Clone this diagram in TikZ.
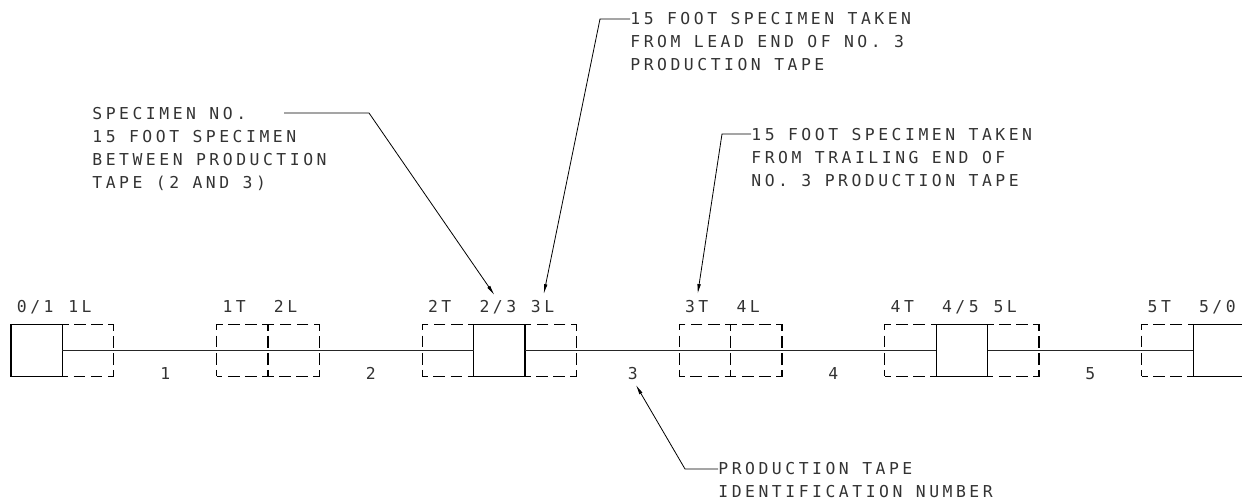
\documentclass[tikz,border=0pt]{standalone}
\usepackage{fontspec}
\usepackage{xcolor}
\usepackage{tikz}
\usetikzlibrary{arrows.meta,positioning,calc}

\newfontfamily\cadfont[LetterSpace=21.5]{DejaVu Sans Mono}

\begin{document}
\begin{tikzpicture}[
  x=0.5pt, y=0.5pt,
  cad/.style={font={\fontsize{8.2pt}{11.5pt}\cadfont}, text=black!80},
  splice/.style={draw, line width=0.55pt, minimum width=25.7pt,
    minimum height=25.7pt, inner sep=0pt, outer sep=0pt},
  sample/.style={splice, dash pattern=on 5.85pt off 2.7pt, dash phase=2.925pt},
  tape/.style={line width=0.5pt, black!85},
  tag/.style={cad, inner sep=0pt, text height=6pt, text depth=0pt},
  note/.style={cad, align=left, inner sep=0pt, anchor=north west},
  lead/.style={-{Latex[length=5pt,width=1.8pt]}, line width=0.4pt, shorten >=3pt}
]
\useasboundingbox (0,0) rectangle (1242,501);
\clip (0,0) rectangle (1242,501);

% tape with splices and specimen boxes
\node[splice] (b01) at (36.7,150.5) {};
\node[sample, right=0pt of b01] (d1L) {};
\node[sample, right=51.4pt of d1L] (d1T) {};
\node[sample, right=0pt of d1T] (d2L) {};
\node[sample, right=51.4pt of d2L] (d2T) {};
\node[splice, right=0pt of d2T] (b23) {};
\node[sample, right=0pt of b23] (d3L) {};
\node[sample, right=51.4pt of d3L] (d3T) {};
\node[sample, right=0pt of d3T] (d4L) {};
\node[sample, right=51.4pt of d4L] (d4T) {};
\node[splice, right=0pt of d4T] (b45) {};
\node[sample, right=0pt of b45] (d5L) {};
\node[sample, right=51.4pt of d5L] (d5T) {};
\node[splice, right=0pt of d5T] (b50) {};
\draw[tape] (b01.east) -- (b23.west) (b23.east) -- (b45.west) (b45.east) -- (b50.west);

% box tags
\node[tag, above right=6pt and 2.75pt of b01.north west] (t01) {0/1};
\node[tag, above right=6pt and 2.75pt of d1L.north west] (t1L) {1L};
\node[tag, above right=6pt and 2.75pt of d1T.north west] (t1T) {1T};
\node[tag, above right=6pt and 2.75pt of d2L.north west] (t2L) {2L};
\node[tag, above right=6pt and 2.75pt of d2T.north west] (t2T) {2T};
\node[tag, above right=6pt and 2.75pt of b23.north west] (t23) {2/3};
\node[tag, above right=6pt and 2.75pt of d3L.north west] (t3L) {3L};
\node[tag, above right=6pt and 2.75pt of d3T.north west] (t3T) {3T};
\node[tag, above right=6pt and 2.75pt of d4L.north west] (t4L) {4L};
\node[tag, above right=6pt and 2.75pt of d4T.north west] (t4T) {4T};
\node[tag, above right=6pt and 2.75pt of b45.north west] (t45) {4/5};
\node[tag, above right=6pt and 2.75pt of d5L.north west] (t5L) {5L};
\node[tag, above right=6pt and 2.75pt of d5T.north west] (t5T) {5T};
\node[tag, above right=6pt and 2.75pt of b50.north west] (t50) {5/0};

% tape numbers
\node[tag] (n1) at ([yshift=1.5pt]$(d1L.south east)!.5!(d1T.south west)$) {1};
\node[tag] (n2) at ([yshift=1.5pt]$(d2L.south east)!.5!(d2T.south west)$) {2};
\node[tag] (n3) at ([shift={(2.5pt,1.5pt)}]$(d3L.south east)!.5!(d3T.south west)$) {3};
\node[tag] (n4) at ([yshift=1.5pt]$(d4L.south east)!.5!(d4T.south west)$) {4};
\node[tag] (n5) at ([yshift=1.5pt]$(d5L.south east)!.5!(d5T.south west)$) {5};

% callouts
\node[note] (c1) at (92,394) {SPECIMEN NO.\\15 FOOT SPECIMEN\\BETWEEN PRODUCTION\\TAPE (2 AND 3)};
\node[note] (c2) at (630,489) {15 FOOT SPECIMEN TAKEN\\FROM LEAD END OF NO. 3\\PRODUCTION TAPE};
\node[note] (c3) at (751,373) {15 FOOT SPECIMEN TAKEN\\FROM TRAILING END OF\\NO. 3 PRODUCTION TAPE};
\node[note] (c4) at (718,39) {PRODUCTION TAPE\\IDENTIFICATION NUMBER};
\coordinate (s1) at (284,388);
\coordinate (k1) at (369,388);
\coordinate (k2) at (600,482);
\coordinate (k3) at (722,367);
\coordinate (k4) at (685,32);
\draw[lead] (s1) -- (k1) -- (t23.north);
\draw[lead] (c2.west |- k2) -- (k2) -- (t3L.north);
\draw[lead] (c3.west |- k3) -- (k3) -- (t3T.north);
\draw[lead] (c4.west |- k4) -- (k4) -- (n3.south);
\end{tikzpicture}
\end{document}
